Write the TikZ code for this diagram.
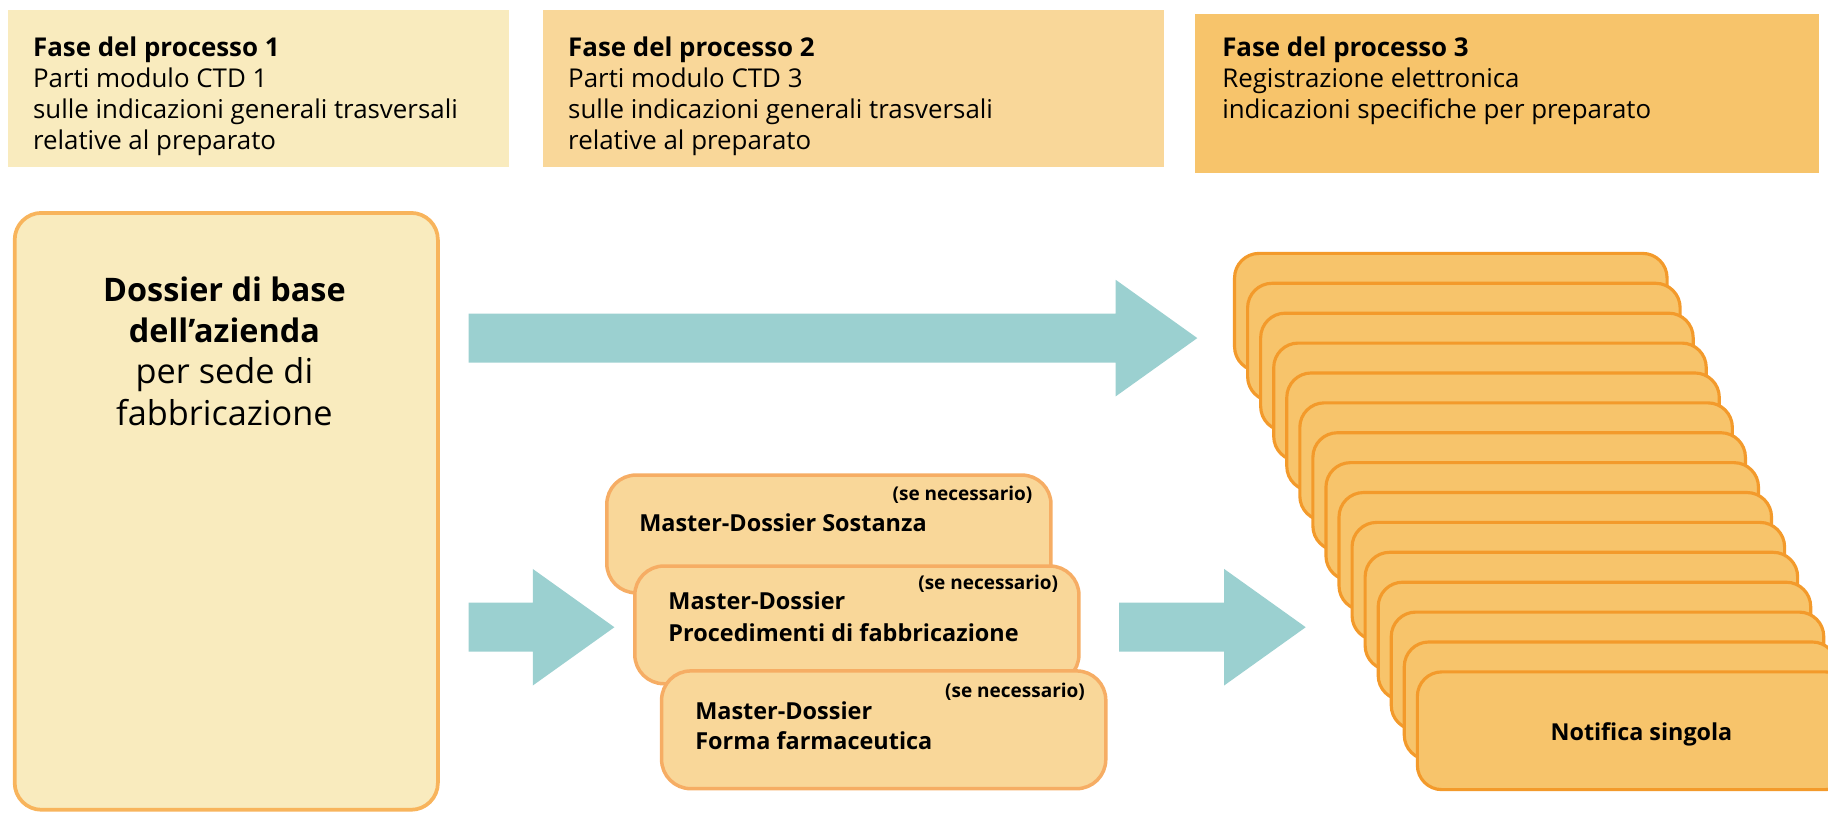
\documentclass[tikz,border=0pt]{standalone}
\usepackage{fontspec}
\setmainfont{Open Sans}
\usetikzlibrary{calc}
\definecolor{hdrA}{HTML}{F9EBBE}
\definecolor{hdrB}{HTML}{F9D799}
\definecolor{hdrC}{HTML}{F7C46B}
\definecolor{bigborder}{HTML}{F8B45C}
\definecolor{mdborder}{HTML}{F6AD64}
\definecolor{nfborder}{HTML}{F39A2B}
\definecolor{arrowc}{HTML}{9BD0D0}
\begin{document}
\begin{tikzpicture}[x=0.5pt,y=-0.5pt,
  hdrbox/.style={anchor=north west, inner sep=0pt, outer sep=0pt, draw=none},
  bigbox/.style={anchor=north west, inner sep=0pt, draw=bigborder, fill=hdrA, line width=1.6pt, rounded corners=11.5pt, minimum width=181.5pt, minimum height=256pt},
  mdbox/.style={anchor=north west, inner sep=0pt, draw=mdborder, fill=hdrB, line width=1.5pt, rounded corners=12.5pt, minimum width=190.5pt, minimum height=50.5pt},
  nfbox/.style={anchor=north west, inner sep=0pt, draw=nfborder, fill=hdrC, line width=1.35pt, rounded corners=10.5pt, minimum width=185.5pt, minimum height=50.5pt},
  ln/.style={anchor=base west, inner sep=0pt},
  hdrtxt/.style={ln, font=\fontsize{11.1}{13}\selectfont},
  hdrtitle/.style={ln, font=\fontsize{11.1}{13}\selectfont\bfseries},
  bigb/.style={anchor=base, inner sep=0pt, font=\fontsize{13.9}{16}\selectfont\bfseries},
  bigr/.style={anchor=base, inner sep=0pt, font=\fontsize{14.7}{17}\selectfont},
  mdtxt/.style={ln, font=\fontsize{10.05}{12}\selectfont\bfseries},
  setxt/.style={anchor=base east, inner sep=0pt, font=\fontsize{8.15}{10}\selectfont\bfseries},
  nftxt/.style={anchor=base, inner sep=0pt, font=\fontsize{10}{12}\selectfont\bfseries},
  arrowfill/.style={fill=arrowc, draw=none}
]
\useasboundingbox (0,0) rectangle (1568,697);
\clip (0,0) rectangle (1568,697);

% header boxes
\node[hdrbox, fill=hdrA, minimum width=215pt, minimum height=67pt] (hb1) at (7,9) {};
\node[hdrbox, fill=hdrB, minimum width=266pt, minimum height=67pt] (hb2) at (466,9) {};
\node[hdrbox, fill=hdrC, minimum width=267.5pt, minimum height=68pt] (hb3) at (1025,12) {};

\node[hdrtitle] (h1a) at (28,48.5) {Fase del processo 1};
\node[hdrtxt] (h1b) at (28,75) {Parti modulo CTD 1};
\node[hdrtxt] (h1c) at (28,101.5) {sulle indicazioni generali trasversali};
\node[hdrtxt] (h1d) at (28,128) {relative al preparato};

\node[hdrtitle] (h2a) at (487,48.5) {Fase del processo 2};
\node[hdrtxt] (h2b) at (487,75) {Parti modulo CTD 3};
\node[hdrtxt] (h2c) at (487,101.5) {sulle indicazioni generali trasversali};
\node[hdrtxt] (h2d) at (487,128) {relative al preparato};

\node[hdrtitle] (h3a) at (1048,48.5) {Fase del processo 3};
\node[hdrtxt] (h3b) at (1048,75) {Registrazione elettronica};
\node[hdrtxt] (h3c) at (1048,101.5) {indicazioni specifiche per preparato};

% big box
\node[bigbox] (big) at (11,181) {};
\node[bigb] (bt1) at (192.5,259) {Dossier di base};
\node[bigb] (bt2) at (192.5,294) {dell’azienda};
\node[bigr] (bt3) at (192.5,329) {per sede di};
\node[bigr] (bt4) at (192.5,365) {fabbricazione};

% arrows
\coordinate (a1s) at (402,290);
\coordinate (a1e) at (1027,290);
\coordinate (a2s) at (402,538);
\coordinate (a2e) at (527,538);
\coordinate (a3s) at (960,538);
\coordinate (a3e) at (1120,538);
\foreach \s/\e in {a1s/a1e, a2s/a2e, a3s/a3e}{
  \fill[arrowfill] ($(\s)+(0,-21)$) -- ($(\e)+(-70,-21)$) -- ($(\e)+(-70,-50)$) -- (\e)
     -- ($(\e)+(-70,50)$) -- ($(\e)+(-70,21)$) -- ($(\s)+(0,21)$) -- cycle;
}

% master dossier boxes
\node[mdbox] (md1) at (519,406) {};
\node[setxt] (se1) at (886,429.5) {(se necessario)};
\node[mdtxt] (md1a) at (548,456) {Master-Dossier Sostanza};

\node[mdbox] (md2) at (543,484) {};
\node[setxt] (se2) at (908,506) {(se necessario)};
\node[mdtxt] (md2a) at (573,523) {Master-Dossier};
\node[mdtxt] (md2b) at (573,550) {Procedimenti di fabbricazione};

\node[mdbox] (md3) at (566,574) {};
\node[setxt] (se3) at (931,598) {(se necessario)};
\node[mdtxt] (md3a) at (596,617) {Master-Dossier};
\node[mdtxt] (md3b) at (596,643) {Forma farmaceutica};

% notification stack
\foreach \i in {0,...,13}{
  \node[nfbox] (n\i) at ({1057.6+11.2*\i},{216+25.64*\i}) {};
}
\node[nfbox] (n14) at (1214.4,574.96) {};
\node[nftxt] (nft) at (1408,635) {Notifica singola};
\end{tikzpicture}
\end{document}
